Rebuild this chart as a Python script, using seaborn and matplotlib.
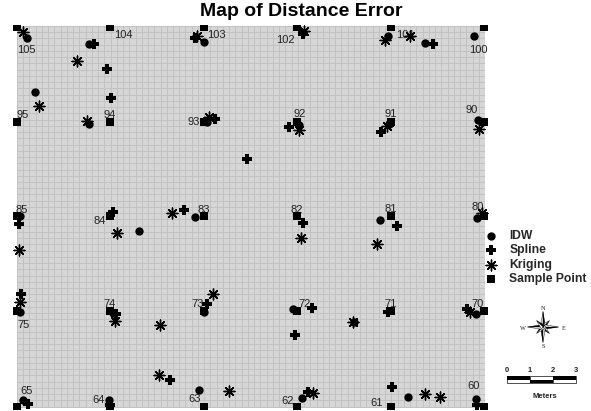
import matplotlib
matplotlib.use('Agg')
import matplotlib.pyplot as plt
import numpy as np
import pandas as pd
import seaborn as sns
from matplotlib.patches import Polygon, Rectangle

# all positions are map units
sample_ids = [105, 104, 103, 102, 101, 100, 95, 94, 93, 92, 91, 90, 85, 84, 83, 82, 81, 80,
              75, 74, 73, 72, 71, 70, 65, 64, 63, 62, 61, 60]
sample_x = [17, 110, 204, 297, 391, 484] * 5
sample_y = [27] * 6 + [122] * 6 + [216] * 6 + [311] * 6 + [407] * 6
label_x = [26, 123, 216, 285, 405, 478, 23, 110, 194, 300, 391, 472, 22, 100, 204, 297, 391, 478,
           24, 110, 198, 305, 391, 478, 27, 99, 195, 288, 377, 474]
label_y = [50, 35, 35, 40, 35, 50, 115, 115, 122, 114, 114, 110, 210, 221, 210, 210, 209, 207,
           325, 304, 304, 304, 304, 304, 391, 400, 399, 401, 403, 386]

idw_x = [27, 89, 204, 388, 425, 474, 35, 89, 207, 299, 389, 478, 20, 139, 195, 380, 477,
         20, 113, 204, 293, 354, 476, 23, 109, 199, 302, 408, 476]
idw_y = [38, 44, 42, 36, 43, 36, 92, 124, 122, 125, 124, 120, 216, 231, 217, 220, 218,
         312, 313, 312, 309, 322, 314, 400, 400, 390, 398, 397, 399]

spline_x = [94, 107, 111, 195, 215, 289, 247, 303, 433, 381, 19, 113, 184, 21, 116, 207, 295, 170,
            28, 110, 303, 397, 312, 388, 467, 392, 308, 477]
spline_y = [44, 69, 98, 38, 119, 127, 159, 34, 44, 132, 224, 212, 210, 294, 314, 304, 335, 380,
            404, 405, 223, 226, 308, 312, 309, 387, 392, 405]

kriging_x = [23, 77, 39, 87, 197, 209, 304, 385, 410, 299, 387, 479, 172, 117, 19, 20, 115, 213,
             160, 159, 229, 301, 377, 353, 470, 313, 425, 440, 482]
kriging_y = [32, 61, 106, 121, 36, 117, 31, 40, 36, 130, 126, 129, 213, 233, 250, 302, 321, 294,
             325, 375, 391, 238, 244, 322, 312, 393, 394, 397, 213]

scale_labels = ['0', '1', '2', '3']

W, H = 591, 411
sns.set_theme(style='white')
plt.rcParams['font.family'] = ['Liberation Sans', 'DejaVu Sans']

fig = plt.figure(figsize=(W / 100, H / 100), dpi=100)
ax = fig.add_axes([17 / W, 1 - 407.5 / H, 468 / W, 381.5 / H])

sns.scatterplot(x=idw_x, y=idw_y, marker='o', s=36, color='black', linewidth=0, label='IDW', ax=ax, clip_on=False, zorder=3)
sns.scatterplot(x=spline_x, y=spline_y, marker='P', s=50, color='black', linewidth=0, label='Spline', ax=ax, clip_on=False, zorder=3)
sns.scatterplot(x=kriging_x, y=kriging_y, marker=(8, 2, 0), s=60, color='black', linewidth=1.0, label='Kriging', ax=ax, clip_on=False, zorder=3)
sns.scatterplot(x=sample_x, y=sample_y, marker='s', s=38, color='black', linewidth=0, label='Sample Point', ax=ax, zorder=3)

# sample squares are cut off by the data frame at top and bottom
squares = ax.collections[-1]
squares.set_clip_path(Rectangle((0, 25), W, 383.5, transform=ax.transData))

ax.set_xlim(17, 485)
ax.set_ylim(407.5, 26)
ax.set_facecolor('#d6d6d6')
ax.set_xticks(np.arange(17, 485, 6.24))
ax.set_yticks(np.arange(26, 407, 6.24))
ax.grid(True, color='#c2c2c2', linewidth=0.7)
ax.set_axisbelow(True)
ax.tick_params(length=0, labelbottom=False, labelleft=False)
sns.despine(ax=ax, left=True, bottom=True)

for sid, lx, ly in zip(sample_ids, label_x, label_y):
    ax.text(lx, ly, str(sid), ha='center', va='center', fontsize=8, color='#222222', zorder=2.5)

handles, labels = ax.get_legend_handles_labels()
ax.legend(handles, labels, loc='upper left', bbox_to_anchor=(479 / W, 1 - 230 / H), bbox_transform=fig.transFigure,
          frameon=False, borderpad=0, borderaxespad=0, labelspacing=0.2, handletextpad=0.5,
          prop={'weight': 'bold', 'size': 8.7})

fig.text(301.5 / W, 1 - 11 / H, 'Map of Distance Error', ha='center', va='center', fontsize=14, fontweight='bold', color='black')

# compass and scale bar live on an overlay in pixel space
ov = fig.add_axes([0, 0, 1, 1], zorder=5)
ov.set_xlim(0, W)
ov.set_ylim(H, 0)
ov.axis('off')

cx, cy = 543, 327
for angle in np.arange(0, 360, 45):
    long_arm = angle % 90 == 0
    r = 15.5 if long_arm else 9
    a = np.deg2rad(angle)
    tip = (cx + r * np.sin(a), cy - r * np.cos(a))
    side1 = (cx + 2.5 * np.sin(a + np.pi / 2), cy - 2.5 * np.cos(a + np.pi / 2))
    side2 = (cx - 2.5 * np.sin(a + np.pi / 2), cy + 2.5 * np.cos(a + np.pi / 2))
    ov.add_patch(Polygon([(cx, cy), tip, side1], facecolor='black', edgecolor='black', linewidth=0.3))
    ov.add_patch(Polygon([(cx, cy), tip, side2], facecolor='white', edgecolor='black', linewidth=0.3))

for letter, lx, ly in [('N', 543, 308), ('S', 543, 346), ('W', 523, 328), ('E', 564, 328)]:
    ov.text(lx, ly, letter, ha='center', va='center', fontsize=4.5, family='Liberation Serif', color='#222222')

x0, step = 506.7, 23
for i in range(3):
    ov.add_patch(Rectangle((x0 + i * step, 376), step, 7, facecolor='white', edgecolor='#333333', linewidth=0.6))
    ov.add_patch(Rectangle((x0 + i * step, 376 if i % 2 == 0 else 379.5), step, 3.5, facecolor='black', linewidth=0))

for i, lab in enumerate(scale_labels):
    ov.text(x0 + i * step, 370, lab, ha='center', va='center', fontsize=5.5, fontweight='bold', color='#222222')
ov.text(544.5, 396, 'Meters', ha='center', va='center', fontsize=5.5, fontweight='bold', color='#222222')

fig.savefig('out.png', dpi=100)
